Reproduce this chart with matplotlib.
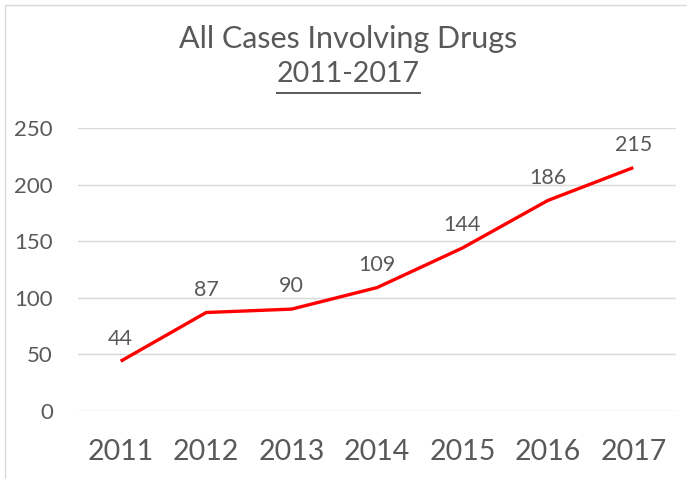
import matplotlib
matplotlib.use("Agg")
import matplotlib.pyplot as plt
from matplotlib.patches import Rectangle
from matplotlib.lines import Line2D

years = ["2011", "2012", "2013", "2014", "2015", "2016", "2017"]
cases = [44, 87, 90, 109, 144, 186, 215]
y_ticks = [0, 50, 100, 150, 200, 250]

plt.rcParams['font.family'] = ['Lato', 'DejaVu Sans']
grey = '#595959'

fig = plt.figure(figsize=(6.87, 4.79), dpi=100)
ax = fig.add_axes([78/687, 1 - 411/479, 598/687, 283/479])

x = list(range(len(years)))
ax.plot(x, cases, color='#ff0000', lw=2.4, solid_capstyle='butt')
for xi, v in zip(x, cases):
    ax.annotate(str(v), (xi, v), xytext=(0, 12), textcoords='offset points',
                ha='center', va='baseline', fontsize=15.5, color=grey)

ax.set_xlim(-0.5, len(years) - 0.5)
ax.set_ylim(0, 250)
ax.set_yticks(y_ticks)
ax.set_xticks(x)
ax.set_xticklabels(years)
ax.grid(axis='y', color='#d9d9d9', lw=1)
ax.set_axisbelow(True)
for s in ax.spines.values():
    s.set_visible(False)
ax.tick_params(axis='both', length=0, colors=grey)
ax.tick_params(axis='y', labelsize=16, pad=18)
ax.tick_params(axis='x', labelsize=20.5, pad=20)

# outer chart border (only top/left visible in the crop)
fig.patches.append(Rectangle((5/687, -0.1), 1.2, 1 - 5/479 + 0.1,
                             transform=fig.transFigure, fill=False,
                             edgecolor='#d9d9d9', lw=1))

fig.text(348.5/687, 1 - 48/479, "All Cases Involving Drugs", ha='center',
         va='baseline', fontsize=22, color=grey)
sub = fig.text(348/687, 1 - 82/479, "2011-2017", ha='center', va='baseline',
               fontsize=20.5, color=grey)

fig.canvas.draw()
bb = sub.get_window_extent().transformed(fig.transFigure.inverted())
uy = 1 - 92.5/479
fig.add_artist(Line2D([bb.x0, bb.x1], [uy, uy],
                      transform=fig.transFigure, color=grey, lw=1.4))

fig.savefig("out.png", dpi=100)
